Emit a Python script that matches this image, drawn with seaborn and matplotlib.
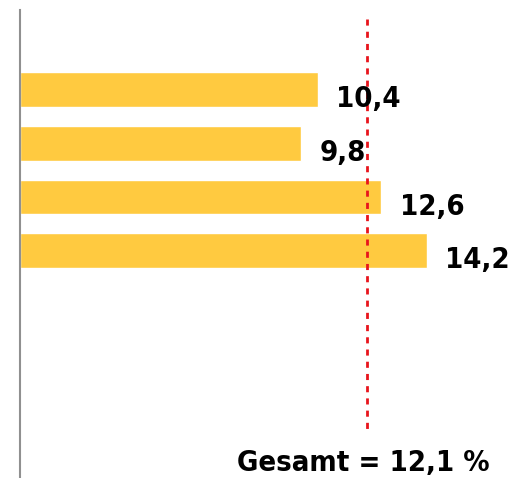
import matplotlib
matplotlib.use("Agg")
import matplotlib.pyplot as plt
import seaborn as sns
import pandas as pd

# data
categories = ["Gruppe 1", "Gruppe 2", "Gruppe 3", "Gruppe 4"]
values = [10.4, 9.8, 12.6, 14.2]
total = 12.1

sns.set_style("white")
plt.rcParams['font.family'] = ['DejaVu Sans']
plt.rcParams['font.stretch'] = 'condensed'

df = pd.DataFrame({"cat": categories, "val": values})

fig = plt.figure(figsize=(5.11, 4.78), dpi=100)
ax = fig.add_axes([20 / 511, 0, 491 / 511, 468 / 478])

sns.barplot(data=df, x="val", y="cat", orient="h", color="#FFCA40",
            saturation=1, width=0.65, ax=ax)

ax.set_xlim(0, 17.13)
ax.set_ylim(7.23, -1.48)

# value labels, German decimal comma
for i, v in enumerate(values):
    ax.text(v + 0.64, i + 0.33, f"{v:.1f}".replace(".", ","), ha="left", va="baseline",
            fontsize=21, fontweight="bold", color="black", fontstretch="condensed")

# overall average
ax.plot([total, total], [-1.31, 6.34], color="#E8141C", lw=2, ls=(0, (2.2, 2.2)))
fig.text(363.5 / 511, 7 / 478, f"Gesamt = {total:.1f} %".replace(".", ","),
         ha="center", va="baseline", fontsize=21, fontweight="bold", color="black",
         fontstretch="condensed")

ax.set_xlabel("")
ax.set_ylabel("")
ax.set_xticks([])
ax.set_yticks([])
for s in ["top", "right", "bottom"]:
    ax.spines[s].set_visible(False)
ax.spines["left"].set_color("#909090")
ax.spines["left"].set_linewidth(1.5)

fig.savefig("out.png", dpi=100)
